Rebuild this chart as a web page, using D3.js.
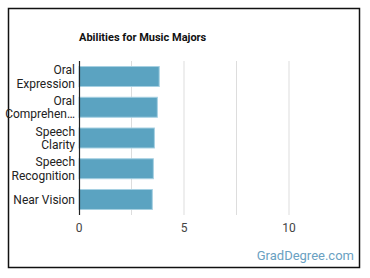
<!DOCTYPE html>
<html><head><meta charset="utf-8">
<script src="https://cdn.jsdelivr.net/npm/d3@7"></script>
<style>body{margin:0;background:#fff;}svg{display:block;font-family:Roboto,sans-serif;}</style>
</head><body>
<svg id="c" width="370" height="278"></svg>
<script>
const categories = [["Oral","Expression"],["Oral","Comprehen…"],["Speech","Clarity"],["Speech","Recognition"],["Near Vision"]];
const values = [3.82, 3.73, 3.59, 3.54, 3.49];
const xTicks = [0, 5, 10];
const gridTicks = [2.5, 5, 7.5, 10];
const title = "Abilities for Music Majors";

const svg = d3.select("#c");
svg.append("rect").attr("x",8.5).attr("y",8.5).attr("width",351).attr("height",259)
  .attr("fill","#fff").attr("stroke","#111").attr("stroke-width",1.5);

const x = d3.scaleLinear().domain([0,12.5]).range([79,341.5]);
const y = d3.scaleBand().domain(d3.range(categories.length)).range([61,215]).paddingInner(0.35).paddingOuter(0.18);

svg.append("g").selectAll("line").data(gridTicks).join("line")
  .attr("x1",d=>x(d)).attr("x2",d=>x(d)).attr("y1",61).attr("y2",215)
  .attr("stroke","#ddd").attr("stroke-width",1);

svg.append("g").selectAll("rect").data(values).join("rect")
  .attr("x",x(0)).attr("y",(d,i)=>y(i)).attr("width",d=>x(d)-x(0)).attr("height",y.bandwidth())
  .attr("fill","#5ba3c1").attr("stroke","#a6d0e2").attr("stroke-width",1);

svg.append("line").attr("x1",79.5).attr("x2",79.5).attr("y1",61).attr("y2",215).attr("stroke","#222").attr("stroke-width",1.2);

const lab = svg.append("g").attr("font-size",12).attr("fill","#222").attr("text-anchor","end");
categories.forEach((c,i)=>{
  const cy = y(i)+y.bandwidth()/2;
  const t = lab.append("text").attr("x",75).attr("fill","#222");
  const n = c.length;
  c.forEach((s,j)=>{
    t.append("tspan").attr("x",75).attr("y",cy + (j-(n-1)/2)*13.5 + 4.3).text(s);
  });
});

const xa = svg.append("g").attr("font-size",12).attr("fill","#444").attr("text-anchor","middle");
xTicks.forEach(v=>{
  xa.append("text").attr("x",x(v)).attr("y",232).attr("fill","#444").text(v);
});

svg.append("text").attr("x",79).attr("y",41).attr("font-size",11).attr("font-weight","bold").attr("fill","#111").text(title);
svg.append("text").attr("x",354).attr("y",260).attr("text-anchor","end").attr("font-size",13).attr("fill","#6aa1c2").text("GradDegree.com");
</script>
</body></html>
